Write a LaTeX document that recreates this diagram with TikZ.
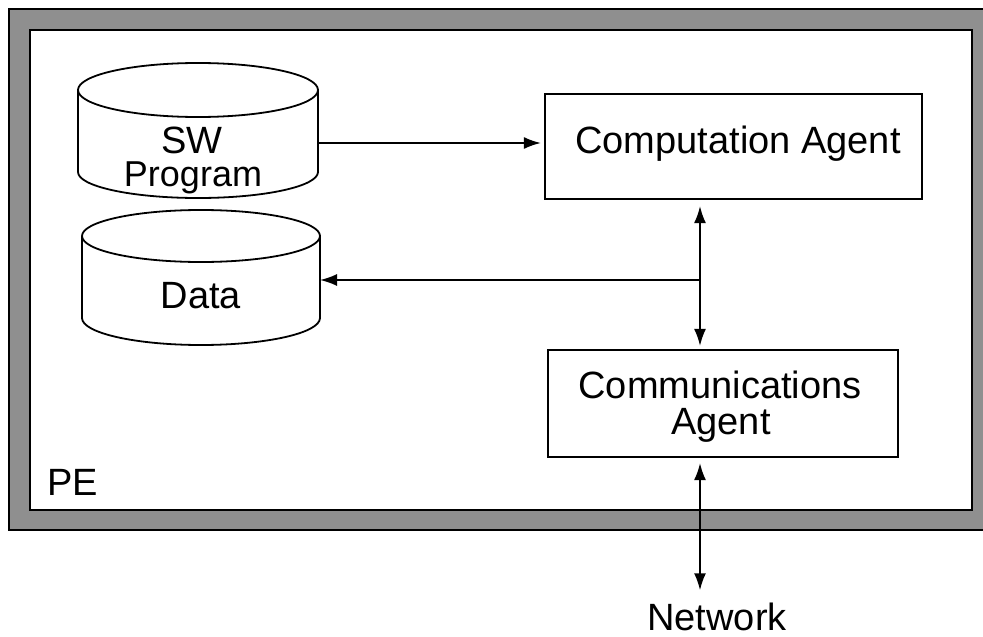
\documentclass[tikz,border=0pt]{standalone}
\usepackage{fontspec}
\setmainfont{Liberation Sans}
\usetikzlibrary{arrows.meta}

\definecolor{framegray}{gray}{0.56}

\tikzset{
  lbl/.style={inner sep=0pt, anchor=base, font=\fontsize{38}{38}\selectfont},
  agentbox/.style={draw, line width=2.2pt, inner sep=0pt},
  drum/.style={line width=1.8pt},
  link/.style={line width=1.8pt},
  tip/.style={-{Latex[length=17pt,width=12pt]}},
  twotip/.style={{Latex[length=17pt,width=12pt]}-{Latex[length=17pt,width=12pt]}},
}

\begin{document}
\begin{tikzpicture}[x=1pt,y=-1pt]
  \useasboundingbox (0,0) rectangle (983,637);
  \clip (0,0) rectangle (983,637);

  % processing element frame
  \fill[framegray, even odd rule] (9,9) rectangle (1000,530) (30,30) rectangle (972,510);
  \draw[line width=2pt] (9,9) rectangle (1000,530);
  \draw[line width=2pt] (30,30) rectangle (972,510);
  \node[lbl, anchor=base west] (pe) at (47,495) {PE};

  % software program store
  \draw[drum] (198,90) ellipse (120pt and 27pt);
  \draw[drum] (78,90) -- (78,172)
    arc[start angle=180, end angle=360, x radius=120pt, y radius=26pt] -- (318,90);
  \node[lbl] (swa) at (192,153) {SW};
  \node[lbl, font=\fontsize{36}{36}\selectfont] (swb) at (193,186) {Program};
  \coordinate (swout) at (318,143);

  % data store
  \draw[drum] (201,236) ellipse (119pt and 26pt);
  \draw[drum] (82,236) -- (82,318)
    arc[start angle=180, end angle=360, x radius=119pt, y radius=27pt] -- (320,236);
  \node[lbl] (data) at (201,308) {Data};
  \coordinate (datain) at (320,280);

  % agents
  \node[agentbox, minimum width=377pt, minimum height=105pt] (comp) at (733.5,146.5) {};
  \node[lbl] (comptxt) at (738,153) {Computation Agent};

  \node[agentbox, minimum width=350pt, minimum height=107pt] (comm) at (723,403.5) {};
  \node[lbl] (commtxt) at (720,398) {Communications};
  \node[lbl] (commtxtb) at (721,434) {Agent};

  \node[lbl] (net) at (717,630) {Network};

  % connectors
  \coordinate (bus) at (700,280);
  \draw[link, tip, shorten >=3pt] (swout) -- (comp.west |- swout);
  \draw[link, twotip, shorten <=6pt, shorten >=3pt] (comp.south -| bus) -- (comm.north -| bus);
  \draw[link, tip] (bus) -- (datain);
  \draw[link, twotip, shorten <=5pt, shorten >=12pt] (comm.south -| bus) -- (net.north -| bus);
\end{tikzpicture}
\end{document}
